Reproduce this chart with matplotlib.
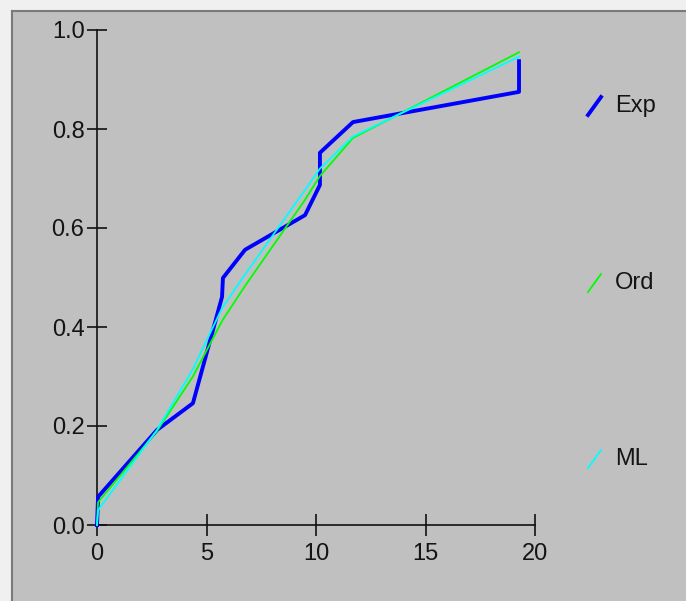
import matplotlib
matplotlib.use("Agg")
import matplotlib.pyplot as plt
from matplotlib.lines import Line2D
from matplotlib.patches import Rectangle

# sample points and the three CDF curves
x_vals = [0.0, 0.05, 2.74, 4.38, 5.71, 5.75, 6.76, 9.50, 10.18, 10.18, 11.69, 19.27, 19.27]
exp_cdf = [0.0, 0.057, 0.192, 0.246, 0.461, 0.499, 0.556, 0.626, 0.687, 0.752, 0.814, 0.875, 0.937]
ord_cdf = [0.0, 0.046, 0.190, 0.300, 0.412, 0.415, 0.483, 0.657, 0.705, 0.705, 0.782, 0.955, 0.955]
ml_cdf = [0.0, 0.030, 0.192, 0.315, 0.438, 0.441, 0.506, 0.677, 0.720, 0.720, 0.785, 0.946, 0.946]

series_names = ["Exp", "Ord", "ML"]
series_colors = ["#0000FF", "#00FF00", "#00FFFF"]
series_widths = [2.8, 1.3, 1.3]

x_ticks = [0, 5, 10, 15, 20]
y_ticks = [0.0, 0.2, 0.4, 0.6, 0.8, 1.0]

W, H = 686, 601
FONT = "Liberation Sans"
TXT = "#141414"


def fx(px):
    return px / W


def fy(py):
    return 1 - py / H


fig = plt.figure(figsize=(W / 100, H / 100), dpi=100, facecolor="#F0F0F0")

# window-like panel: gray fill with a darker border at top/left
fig.add_artist(Rectangle((fx(12), 0), 1, fy(11), transform=fig.transFigure,
                         facecolor="#C0C0C0", edgecolor="none", zorder=-2))
fig.add_artist(Line2D([fx(12), fx(12)], [0, fy(11)], transform=fig.transFigure,
                      color="#7a7a7a", lw=1.5, zorder=-1))
fig.add_artist(Line2D([fx(12), 1], [fy(11), fy(11)], transform=fig.transFigure,
                      color="#7a7a7a", lw=1.5, zorder=-1))

ax = fig.add_axes([fx(97), fy(525), (535 - 97) / W, (525 - 30) / H])
ax.patch.set_alpha(0)

for ys, c, lw in zip([exp_cdf, ord_cdf, ml_cdf], series_colors, series_widths):
    ax.plot(x_vals, ys, color=c, lw=lw, clip_on=False, zorder=3)

ax.set_xlim(0, 20)
ax.set_ylim(0, 1)
ax.set_xticks(x_ticks)
ax.set_xticklabels([str(t) for t in x_ticks])
ax.set_yticks(y_ticks)
ax.set_yticklabels([f"{t:.1f}" for t in y_ticks])
for s in ["top", "right"]:
    ax.spines[s].set_visible(False)
for s in ["left", "bottom"]:
    ax.spines[s].set_color("#111111")
    ax.spines[s].set_linewidth(1.2)
ax.tick_params(axis="x", direction="inout", length=16, width=1.2, color="#111111",
               pad=5, labelsize=17, labelcolor=TXT)
ax.tick_params(axis="y", direction="inout", length=14, width=1.2, color="#111111",
               pad=2, labelsize=17, labelcolor=TXT)
for lab in ax.get_xticklabels() + ax.get_yticklabels():
    lab.set_fontfamily(FONT)

# legend drawn as short slanted strokes with labels
legend_y = [106, 283, 459]
for name, c, lw, yc in zip(series_names, series_colors, series_widths, legend_y):
    fig.add_artist(Line2D([fx(588), fx(601)], [fy(yc + 9), fy(yc - 9)],
                          transform=fig.transFigure, color=c, lw=lw))
    fig.text(fx(615), fy(yc), name, fontsize=17, family=FONT, color=TXT,
             ha="left", va="center")

fig.savefig("out.png", dpi=100, facecolor=fig.get_facecolor())
